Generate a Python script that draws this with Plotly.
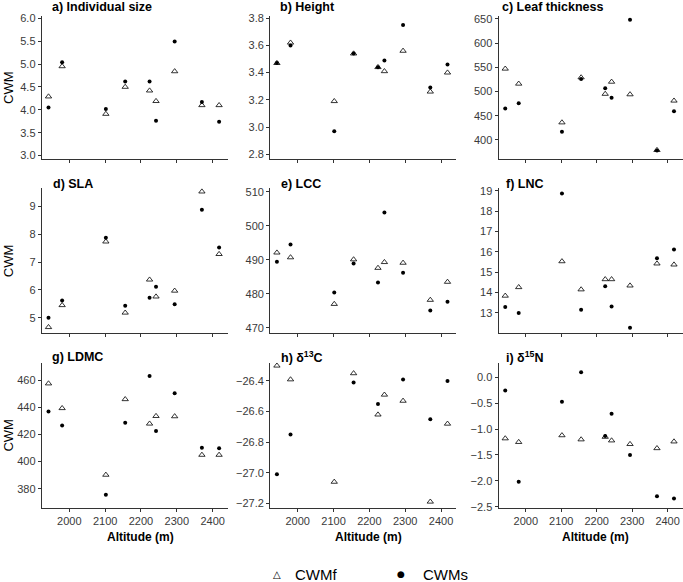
import plotly.graph_objects as go

altitude = [1942, 1980, 2102, 2156, 2224, 2242, 2294, 2370, 2418]

size_f = [4.29, 4.95, 3.91, 4.50, 4.42, 4.19, 4.84, 4.10, 4.10]
size_s = [4.05, 5.04, 4.02, 4.62, 4.62, 3.76, 5.49, 4.17, 3.74]

height_f = [3.47, 3.62, 3.19, 3.54, 3.44, 3.41, 3.56, 3.26, 3.40]
height_s = [3.47, 3.60, 2.97, 3.54, 3.44, 3.49, 3.75, 3.29, 3.46]

lt_f = [547, 516, 436, 529, 495, 520, 494, 379, 481]
lt_s = [465, 476, 417, 526, 507, 487, 648, 378, 459]

sla_f = [4.66, 5.45, 7.74, 5.18, 6.37, 5.76, 5.97, 9.54, 7.29]
sla_s = [5.00, 5.62, 7.88, 5.43, 5.72, 6.12, 5.49, 8.89, 7.53]

lcc_f = [492.1, 490.7, 477.0, 490.1, 487.6, 489.3, 489.1, 478.2, 483.5]
lcc_s = [489.4, 494.5, 480.4, 488.9, 483.3, 503.9, 486.2, 475.1, 477.7]

lnc_f = [13.84, 14.26, 15.53, 14.15, 14.65, 14.65, 14.34, 15.42, 15.37]
lnc_s = [13.29, 13.00, 18.86, 13.15, 14.31, 13.32, 12.27, 15.68, 16.11]

ldmc_f = [457.5, 439.3, 390.2, 445.9, 427.9, 433.5, 433.3, 404.9, 404.9]
ldmc_s = [436.8, 426.6, 375.6, 428.6, 463.0, 422.5, 450.4, 410.1, 409.8]

d13c_f = [-26.30, -26.39, -27.06, -26.35, -26.62, -26.49, -26.53, -27.19, -26.68]
d13c_s = [-27.01, -26.75, None, -26.41, -26.55, None, -26.39, -26.65, -26.40]

d15n_f = [-1.18, -1.25, -1.12, -1.20, -1.15, -1.22, -1.29, -1.37, -1.24]
d15n_s = [-0.25, -2.02, -0.47, 0.10, -1.13, -0.70, -1.50, -2.30, -2.34]

titles = ["a) Individual size", "b) Height", "c) Leaf thickness",
          "d) SLA", "e) LCC", "f) LNC",
          "g) LDMC", "h) δ<sup>13</sup>C", "i) δ<sup>15</sup>N"]
series_f = [size_f, height_f, lt_f, sla_f, lcc_f, lnc_f, ldmc_f, d13c_f, d15n_f]
series_s = [size_s, height_s, lt_s, sla_s, lcc_s, lnc_s, ldmc_s, d13c_s, d15n_s]

legend_labels = ["CWMf", "CWMs"]
legend_symbols = ["△", "●"]

x_ticks = [2000, 2100, 2200, 2300, 2400]
y_ticks = [
    [3.0, 3.5, 4.0, 4.5, 5.0, 5.5, 6.0],
    [2.8, 3.0, 3.2, 3.4, 3.6, 3.8],
    [400, 450, 500, 550, 600, 650],
    [5, 6, 7, 8, 9],
    [470, 480, 490, 500, 510],
    [13, 14, 15, 16, 17, 18, 19],
    [380, 400, 420, 440, 460],
    [-27.2, -27.0, -26.8, -26.6, -26.4],
    [-2.5, -2.0, -1.5, -1.0, -0.5, 0.0],
]
y_formats = [".1f", ".1f", "d", "d", "d", "d", "d", ".1f", ".1f"]
y_ranges = [
    [2.92, 6.06], [2.763, 3.82], [360, 657],
    [4.44, 9.67], [468.4, 511.1], [12.0, 19.13],
    [366, 473], [-27.229, -26.279], [-2.52, 0.29],
]
x_range = [1923, 2442]

W, H = 683, 582
col_px = [(41.7, 227.7), (270.1, 456.1), (498.5, 682.5)]
row_px = [(15.5, 159.3), (188.0, 333.3), (362.5, 507.7)]
title_left_px = [50, 278.3, 500, 50.7, 279.3, 504.3, 50, 279.3, 504.3]
title_y_px = [7.5, 184.3, 357.0]

FONT = "Liberation Sans, Arial, sans-serif"
AX_COLOR = "#333333"
TICK_COLOR = "#3a3a3a"

fig = go.Figure()
layout = dict(
    width=W, height=H,
    margin=dict(l=0, r=0, t=0, b=0),
    paper_bgcolor="white", plot_bgcolor="white",
    font=dict(family=FONT, size=11, color=TICK_COLOR),
    showlegend=False,
)
annotations = []

for i in range(9):
    r, c = divmod(i, 3)
    n = "" if i == 0 else str(i + 1)
    xa, ya = "x" + n, "y" + n
    x0, x1 = col_px[c]
    y0, y1 = row_px[r]
    layout["xaxis" + n] = dict(
        domain=[x0 / W, x1 / W], range=x_range, anchor=ya,
        tickvals=x_ticks, showticklabels=(r == 2),
        ticks="outside", ticklen=3, tickwidth=1, tickcolor=AX_COLOR,
        showline=True, linecolor=AX_COLOR, linewidth=1, mirror=False,
        showgrid=False, zeroline=False, automargin=False,
        tickfont=dict(size=11, color=TICK_COLOR),
    )
    layout["yaxis" + n] = dict(
        domain=[1 - y1 / H, 1 - y0 / H], range=y_ranges[i], anchor=xa,
        tickvals=y_ticks[i], tickformat=y_formats[i],
        ticks="outside", ticklen=3, tickwidth=1, tickcolor=AX_COLOR,
        showline=True, linecolor=AX_COLOR, linewidth=1, mirror=False,
        showgrid=False, zeroline=False, automargin=False,
        tickfont=dict(size=11, color=TICK_COLOR),
    )
    fig.add_trace(go.Scatter(
        x=altitude, y=series_f[i], mode="markers", xaxis=xa, yaxis=ya,
        marker=dict(symbol="triangle-up-open", size=5.5, color="black",
                    line=dict(width=0.8, color="black")),
        cliponaxis=True, name="CWMf",
    ))
    fig.add_trace(go.Scatter(
        x=altitude, y=series_s[i], mode="markers", xaxis=xa, yaxis=ya,
        marker=dict(symbol="circle", size=4, color="black"),
        cliponaxis=True, name="CWMs",
    ))
    annotations.append(dict(
        text="<b>" + titles[i] + "</b>", xref="paper", yref="paper",
        x=title_left_px[i] / W, y=1 - title_y_px[r] / H,
        xanchor="left", yanchor="middle", showarrow=False,
        font=dict(family=FONT, size=12.5, color="black"),
    ))

for r in range(3):
    y0, y1 = row_px[r]
    annotations.append(dict(
        text="CWM", xref="paper", yref="paper",
        x=8.5 / W, y=1 - (y0 + y1) / 2 / H, textangle=-90,
        xanchor="center", yanchor="middle", showarrow=False,
        font=dict(family=FONT, size=13, color="black"),
    ))
for c in range(3):
    xc = [140, 368, 595][c]
    annotations.append(dict(
        text="<b>Altitude (m)</b>", xref="paper", yref="paper",
        x=xc / W, y=1 - 536.7 / H, xanchor="center", yanchor="middle",
        showarrow=False, font=dict(family=FONT, size=12, color="black"),
    ))

# bottom key (legend)
sym_x = [276.7, 401.0]
sym_size = [10, 9]
text_x = [293.3, 420.7]
for k in range(2):
    annotations.append(dict(
        text=legend_symbols[k], xref="paper", yref="paper",
        x=sym_x[k] / W, y=1 - 574 / H, xanchor="center", yanchor="middle",
        showarrow=False,
        font=dict(family="DejaVu Sans, sans-serif", size=sym_size[k], color="black"),
    ))
    annotations.append(dict(
        text=legend_labels[k], xref="paper", yref="paper",
        x=text_x[k] / W, y=1 - 574 / H, xanchor="left", yanchor="middle",
        showarrow=False, font=dict(family=FONT, size=15, color="black"),
    ))

layout["annotations"] = annotations
fig.update_layout(**layout)
fig.write_html("out.html", config={"displayModeBar": False},
               post_script="document.body.style.margin='0px';")
